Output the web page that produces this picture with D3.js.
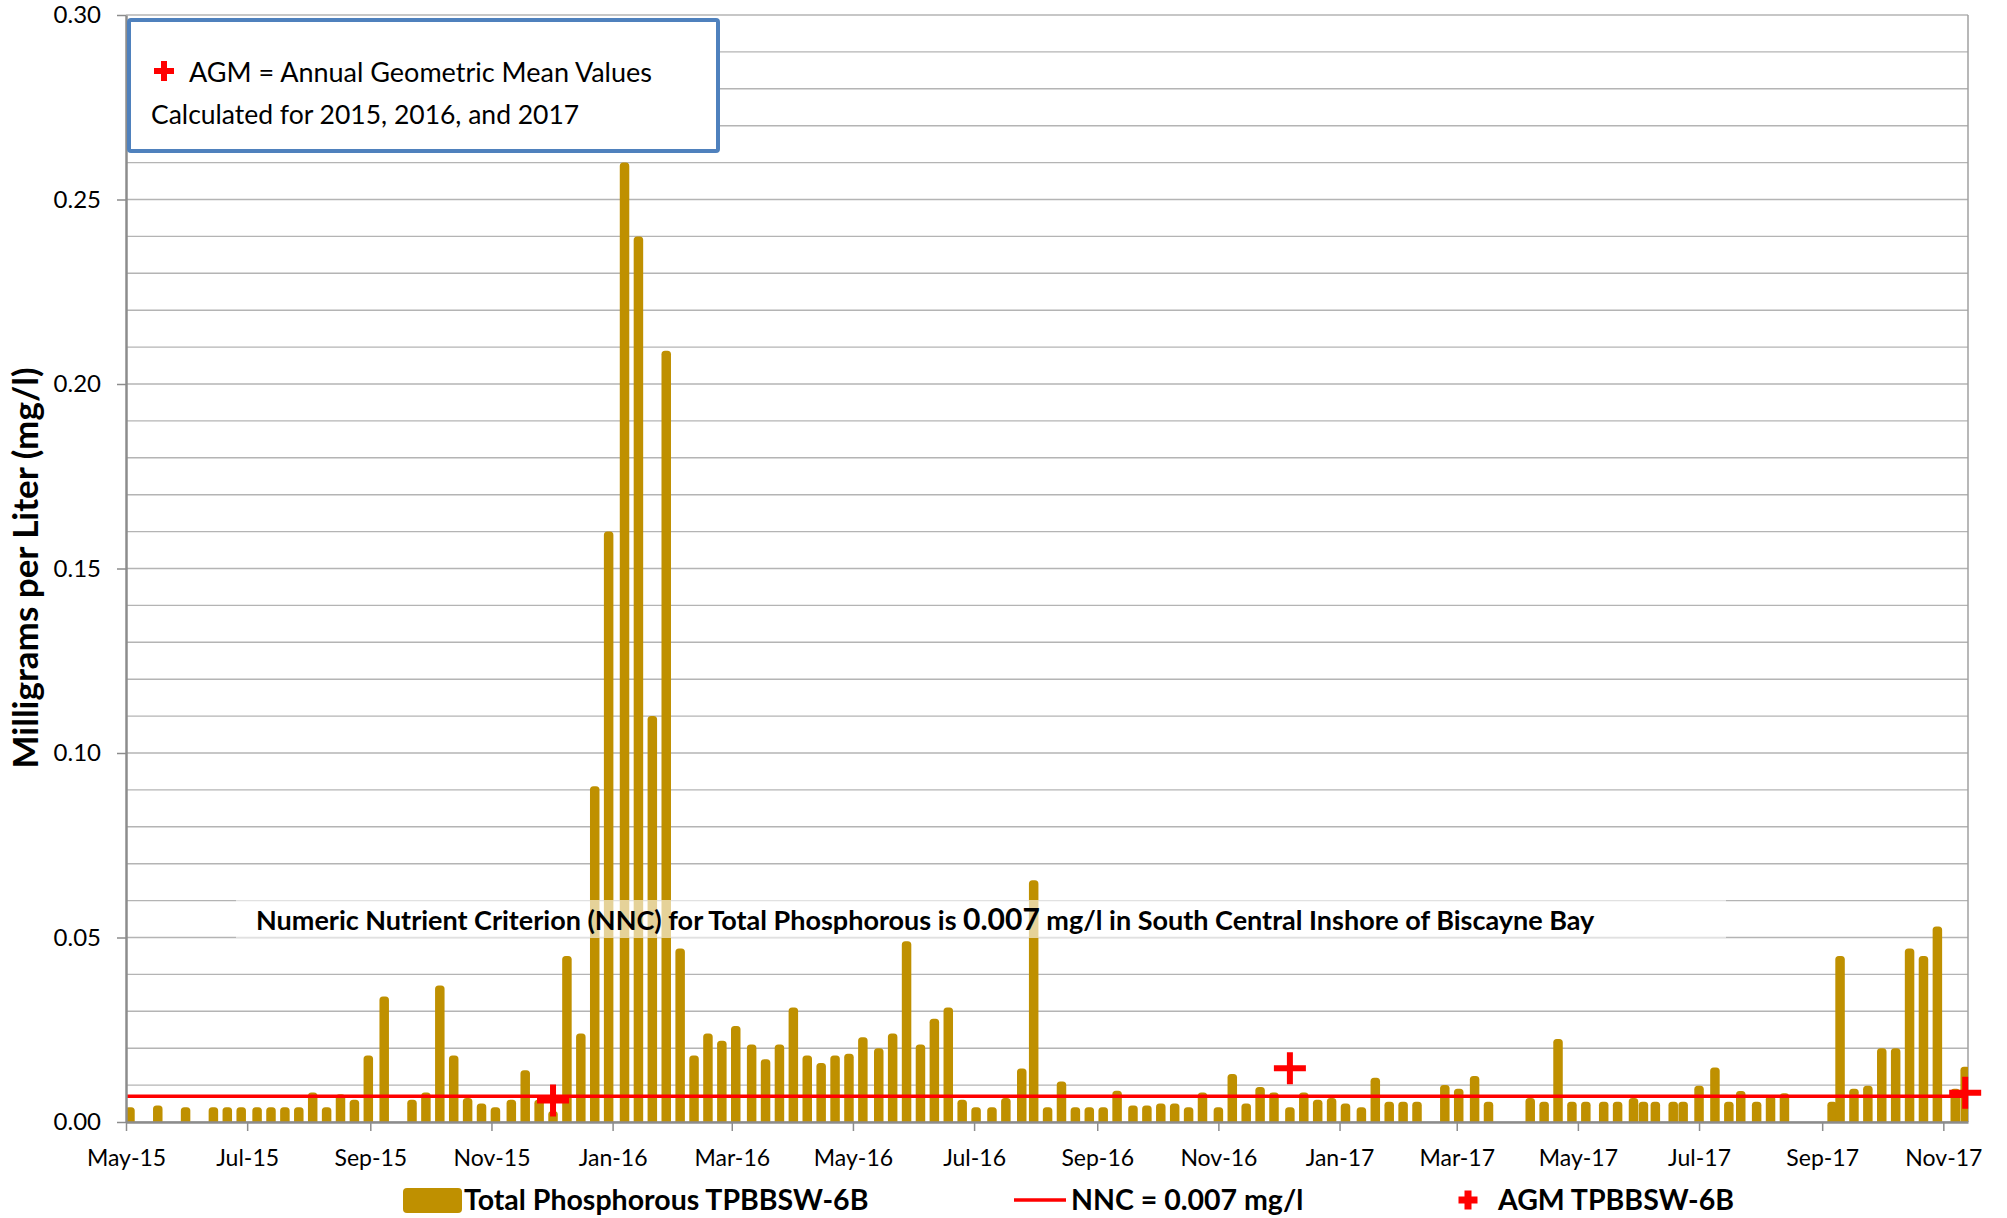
<!DOCTYPE html>
<html>
<head>
<meta charset="utf-8">
<script src="https://cdn.jsdelivr.net/npm/d3@7"></script>
<style>
  body { margin: 0; background: #fff; }
  svg text { font-family: Lato, "Open Sans", sans-serif; fill: #000; }
</style>
</head>
<body>
<svg width="2007" height="1218"></svg>
<script>
// sample dates and total phosphorous (mg/l)
var sampleDates = [
  "2015-05-03","2015-05-17","2015-05-31","2015-06-14","2015-06-21","2015-06-28","2015-07-06","2015-07-13",
  "2015-07-20","2015-07-27","2015-08-03","2015-08-10","2015-08-17","2015-08-24","2015-08-31","2015-09-08",
  "2015-09-22","2015-09-29","2015-10-06","2015-10-13","2015-10-20","2015-10-27","2015-11-03","2015-11-11",
  "2015-11-18","2015-11-25","2015-12-02","2015-12-09","2015-12-16","2015-12-23","2015-12-30","2016-01-07",
  "2016-01-14","2016-01-21","2016-01-28","2016-02-04","2016-02-11","2016-02-18","2016-02-25","2016-03-03",
  "2016-03-11","2016-03-18","2016-03-25","2016-04-01","2016-04-08","2016-04-15","2016-04-22","2016-04-29",
  "2016-05-06","2016-05-14","2016-05-21","2016-05-28","2016-06-04","2016-06-11","2016-06-18","2016-06-25",
  "2016-07-02","2016-07-10","2016-07-17","2016-07-25","2016-07-31","2016-08-07","2016-08-14","2016-08-21",
  "2016-08-28","2016-09-04","2016-09-11","2016-09-19","2016-09-26","2016-10-03","2016-10-10","2016-10-17",
  "2016-10-24","2016-11-01","2016-11-08","2016-11-15","2016-11-22","2016-11-29","2016-12-07","2016-12-14",
  "2016-12-21","2016-12-28","2017-01-04","2017-01-12","2017-01-19","2017-01-26","2017-02-02","2017-02-09",
  "2017-02-23","2017-03-02","2017-03-10","2017-03-17","2017-04-07","2017-04-14","2017-04-21","2017-04-28",
  "2017-05-05","2017-05-14","2017-05-21","2017-05-29","2017-06-03","2017-06-09","2017-06-18","2017-06-23",
  "2017-07-01","2017-07-09","2017-07-16","2017-07-22","2017-07-30","2017-08-06","2017-08-13","2017-09-06",
  "2017-09-10","2017-09-17","2017-09-24","2017-10-01","2017-10-08","2017-10-15","2017-10-22","2017-10-29",
  "2017-11-07","2017-11-12"
];
var tpValues = [
  0.004, 0.0045, 0.004, 0.004, 0.004, 0.004, 0.004, 0.004,
  0.004, 0.004, 0.008, 0.004, 0.0075, 0.006, 0.018, 0.034,
  0.006, 0.008, 0.037, 0.018, 0.0065, 0.005, 0.004, 0.006,
  0.014, 0.006, 0.003, 0.045, 0.024, 0.091, 0.16, 0.26,
  0.24, 0.11, 0.209, 0.047, 0.018, 0.024, 0.022, 0.026,
  0.021, 0.017, 0.021, 0.031, 0.018, 0.016, 0.018, 0.0185,
  0.023, 0.020, 0.024, 0.049, 0.021, 0.028, 0.031, 0.006,
  0.004, 0.004, 0.0065, 0.0145, 0.0655, 0.004, 0.011, 0.004,
  0.004, 0.004, 0.0085, 0.0045, 0.0045, 0.005, 0.005, 0.004,
  0.008, 0.004, 0.013, 0.005, 0.0095, 0.008, 0.004, 0.008,
  0.006, 0.0065, 0.005, 0.004, 0.012, 0.0055, 0.0055, 0.0055,
  0.010, 0.009, 0.0125, 0.0055, 0.0065, 0.0055, 0.0225, 0.0055,
  0.0055, 0.0055, 0.0055, 0.0065, 0.0055, 0.0055, 0.0055, 0.0055,
  0.0098, 0.0148, 0.0055, 0.0084, 0.0055, 0.0071, 0.0078, 0.0055,
  0.045, 0.009, 0.0098, 0.020, 0.020, 0.047, 0.045, 0.053,
  0.009, 0.015
];
var agmDates = ["2015-12-02", "2016-12-07", "2017-11-12"];
var agmValues = [0.0058, 0.0146, 0.0079];
var nncValue = 0.007;
var yTickValues = [0, 0.05, 0.10, 0.15, 0.20, 0.25, 0.30];
var legendLabels = ["Total Phosphorous TPBBSW-6B", "NNC = 0.007 mg/l", "AGM TPBBSW-6B"];
var yTitle = "Milligrams per Liter (mg/l)";
var noteLines = ["AGM = Annual Geometric Mean Values", "Calculated for 2015, 2016, and 2017"];

var svg = d3.select("svg");
var parse = d3.timeParse("%Y-%m-%d");
var plotLeft = 126, plotRight = 1968, plotTop = 15, plotBottom = 1122;
var gold = "#bf9000", red = "#ff0000";

var samples = sampleDates.map(function(d, i) { return { date: parse(d), value: tpValues[i] }; });
var agm = agmDates.map(function(d, i) { return { date: parse(d), value: agmValues[i] }; });

var xScale = d3.scaleTime()
    .domain([parse("2015-05-01"), new Date(2017, 10, 13, 10)])
    .range([plotLeft, plotRight]);
var yScale = d3.scaleLinear().domain([0, 0.30]).range([plotBottom, plotTop]);

// gridlines every 0.01
svg.append("g").selectAll("line")
   .data(yScale.ticks(30))
   .enter().append("line")
   .attr("x1", plotLeft).attr("x2", plotRight)
   .attr("y1", function(d) { return yScale(d); })
   .attr("y2", function(d) { return yScale(d); })
   .attr("stroke", "#b4b4b4").attr("stroke-width", 1.4);

svg.append("line")
   .attr("x1", plotRight).attr("x2", plotRight).attr("y1", plotTop).attr("y2", plotBottom)
   .attr("stroke", "#a0a0a0").attr("stroke-width", 1.5);

svg.append("clipPath").attr("id", "plot")
   .append("rect").attr("x", plotLeft).attr("y", plotTop)
   .attr("width", plotRight - plotLeft).attr("height", plotBottom - plotTop);

var barW = 9.5;
svg.append("g").attr("clip-path", "url(#plot)")
   .selectAll(".bar")
   .data(samples)
   .enter().append("rect")
   .attr("class", "bar")
   .attr("x", function(d) { return xScale(d.date) - barW / 2; })
   .attr("y", function(d) { return yScale(d.value); })
   .attr("width", barW)
   .attr("height", function(d) { return yScale(0) - yScale(d.value) + 4; })
   .attr("rx", 3.5)
   .attr("fill", gold);

// NNC line
svg.append("line")
   .attr("x1", plotLeft).attr("x2", plotRight)
   .attr("y1", yScale(nncValue)).attr("y2", yScale(nncValue))
   .attr("stroke", red).attr("stroke-width", 3.5);

// axes
var yAxis = svg.append("g")
   .attr("transform", "translate(" + plotLeft + ",0)")
   .call(d3.axisLeft(yScale).tickValues(yTickValues).tickFormat(d3.format(".2f"))
         .tickSize(9).tickPadding(16).tickSizeOuter(0));
var xAxis = svg.append("g")
   .attr("transform", "translate(0," + plotBottom + ")")
   .call(d3.axisBottom(xScale).ticks(d3.timeMonth.every(2)).tickFormat(d3.timeFormat("%b-%y"))
         .tickSize(9).tickPadding(19).tickSizeOuter(0));

[yAxis, xAxis].forEach(function(a) {
  a.select(".domain").attr("stroke", "#8c8c8c").attr("stroke-width", 2.5);
  a.selectAll(".tick line").attr("stroke", "#8c8c8c").attr("stroke-width", 1.5);
  a.selectAll("text").attr("fill", "#000");
});
yAxis.selectAll("text").style("font-size", "24px");
xAxis.selectAll("text").style("font-size", "23px");

// red cross marker (both bars drawn the same way round so they fill solid)
function crossPath(cx, cy, size, t) {
  return "M" + (cx - size / 2) + "," + (cy - t / 2) + "h" + size + "v" + t + "h" + (-size) + "Z" +
         "M" + (cx - t / 2) + "," + (cy - size / 2) + "h" + t + "v" + size + "h" + (-t) + "Z";
}

svg.append("g").selectAll("path")
   .data(agm)
   .enter().append("path")
   .attr("d", function(d) { return crossPath(xScale(d.date), yScale(d.value), 32, 6); })
   .attr("fill", red);

// NNC annotation box
svg.append("rect")
   .attr("x", 236).attr("y", 900).attr("width", 1490).attr("height", 38)
   .attr("fill", "#fff").attr("fill-opacity", 0.6);
var nncText = svg.append("text")
   .attr("x", 256).attr("y", 930)
   .style("font-size", "27px").style("font-weight", "bold");
nncText.append("tspan").text("Numeric Nutrient Criterion (NNC) for Total Phosphorous is ");
nncText.append("tspan").style("font-size", "30px").text(d3.format(".3f")(nncValue));
nncText.append("tspan").text(" mg/l in South Central Inshore of Biscayne Bay");

// note box
svg.append("rect")
   .attr("x", 129).attr("y", 20).attr("width", 589).attr("height", 131).attr("rx", 2)
   .attr("fill", "#fff").attr("stroke", "#4f81bd").attr("stroke-width", 4);
svg.append("path").attr("d", crossPath(164, 71, 20, 6)).attr("fill", red);
svg.append("text").attr("x", 189).attr("y", 82).style("font-size", "27px").text(noteLines[0]);
svg.append("text").attr("x", 151).attr("y", 124).style("font-size", "26.5px").text(noteLines[1]);

// y title
svg.append("text")
   .attr("transform", "translate(38,568) rotate(-90)")
   .attr("text-anchor", "middle")
   .style("font-size", "35px").style("font-weight", "bold")
   .text(yTitle);

// legend
var legend = svg.append("g").style("font-size", "28.5px").style("font-weight", "bold");
legend.append("rect").attr("x", 403).attr("y", 1188).attr("width", 59).attr("height", 25)
      .attr("rx", 4).attr("fill", gold);
legend.append("text").attr("x", 464).attr("y", 1210).text(legendLabels[0]);
legend.append("line").attr("x1", 1014).attr("x2", 1066).attr("y1", 1200).attr("y2", 1200)
      .attr("stroke", red).attr("stroke-width", 3.5);
legend.append("text").attr("x", 1071).attr("y", 1210).text(legendLabels[1]);
legend.append("path").attr("d", crossPath(1468, 1200, 19, 7)).attr("fill", red);
legend.append("text").attr("x", 1498).attr("y", 1210).text(legendLabels[2]);
</script>
</body>
</html>
